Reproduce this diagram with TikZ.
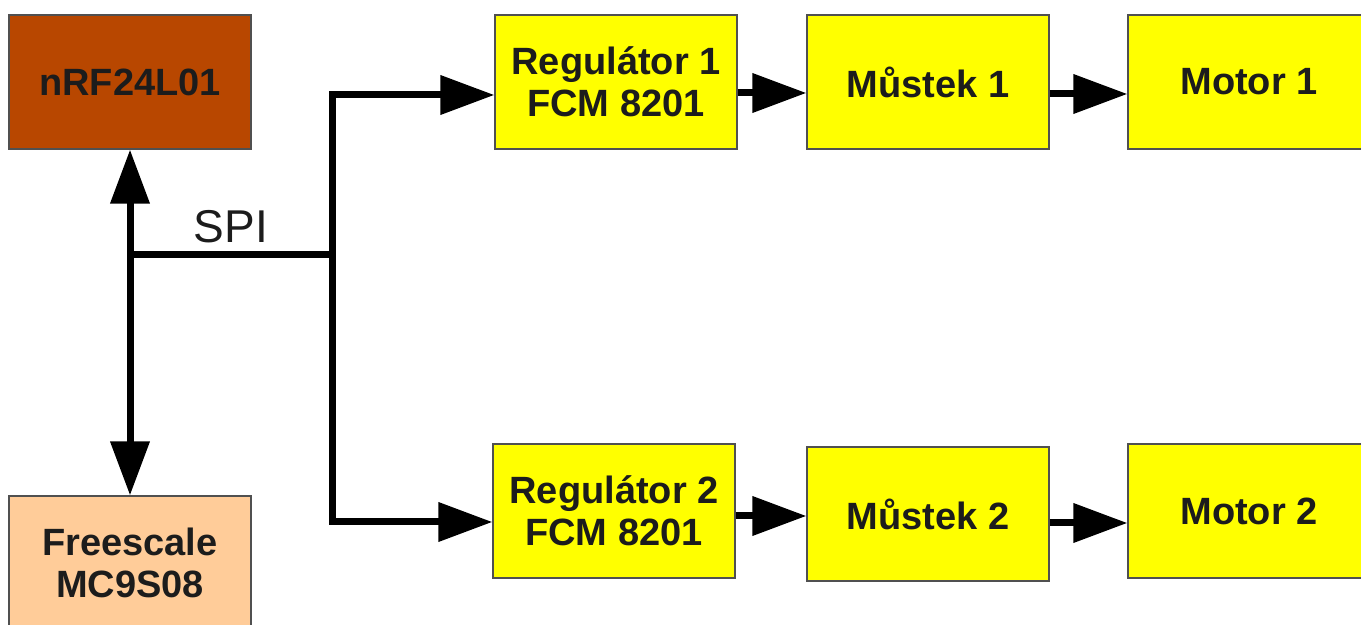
\documentclass[tikz,border=0pt]{standalone}
\usepackage{fontspec}
\setmainfont{Liberation Sans}
\usetikzlibrary{arrows.meta}

\definecolor{rfbrown}{HTML}{B84700}
\definecolor{mcuorange}{HTML}{FFCC99}
\definecolor{boxyellow}{HTML}{FFFF00}
\definecolor{edgegray}{HTML}{505050}
\definecolor{textdark}{HTML}{1C1C1C}

\begin{document}
\begin{tikzpicture}[x=0.5pt, y=-0.5pt,
    block/.style={draw=edgegray, line width=0.6pt, fill=boxyellow,
        minimum width=121pt, minimum height=67pt, inner sep=0pt,
        align=center, text=textdark, font=\fontsize{19}{21}\selectfont\bfseries},
    bus/.style={line width=3.5pt, black},
    arrow/.style={bus, -{Triangle[length=27pt, width=19pt]}},
    darrow/.style={bus, {Triangle[length=27pt, width=19pt]}-{Triangle[length=27pt, width=19pt]}}]

    % ── Frame ─────────────────────────────────────────────────────────────────
    \clip (0,0) rectangle (1361,625);

    % ── Radio and controller ─────────────────────────────────────────────────
    \node[block, fill=rfbrown]   (nrf) at (130,82)  {nRF24L01};
    \node[block, fill=mcuorange] (mcu) at (130,563) {Freescale\\MC9S08};

    % ── Channel 1 ────────────────────────────────────────────────────────────
    \node[block] (reg1)  at (616,82)  {Regulátor 1\\FCM 8201};
    \node[block] (must1) at (928,82)  {Můstek 1};
    \node[block] (mot1)  at (1249,82) {Motor 1};

    % ── Channel 2 ────────────────────────────────────────────────────────────
    \node[block] (reg2)  at (614,511)  {Regulátor 2\\FCM 8201};
    \node[block] (must2) at (928,514)  {Můstek 2};
    \node[block] (mot2)  at (1249,511) {Motor 2};

    % ── Coordinates ──────────────────────────────────────────────────────────
    \coordinate (spi)    at (130,255);
    \coordinate (bustop) at (332,95);
    \coordinate (busbot) at (332,522);

    % ── SPI bus ──────────────────────────────────────────────────────────────
    \draw[darrow] (nrf.south) -- (mcu.north);
    \draw[bus] (spi) -- (spi -| bustop)
        node[midway, above=1pt, font=\fontsize{23}{26}\selectfont, text=textdark] {SPI};
    \draw[darrow] (bustop -| reg1.west) -- (bustop) -- (busbot) -- (busbot -| reg2.west);

    % ── Signal chain ─────────────────────────────────────────────────────────
    \draw[arrow] ([yshift=-5.5pt]reg1.east) -- ([yshift=-5.5pt]reg1.east -| must1.west);
    \draw[arrow] ([yshift=-6pt]must1.east) -- ([yshift=-6pt]must1.east -| mot1.west);
    \draw[arrow] ([yshift=-2.5pt]reg2.east) -- ([yshift=-2.5pt]reg2.east -| must2.west);
    \draw[arrow] ([yshift=-4.5pt]must2.east) -- ([yshift=-4.5pt]must2.east -| mot2.west);

\end{tikzpicture}
\end{document}
